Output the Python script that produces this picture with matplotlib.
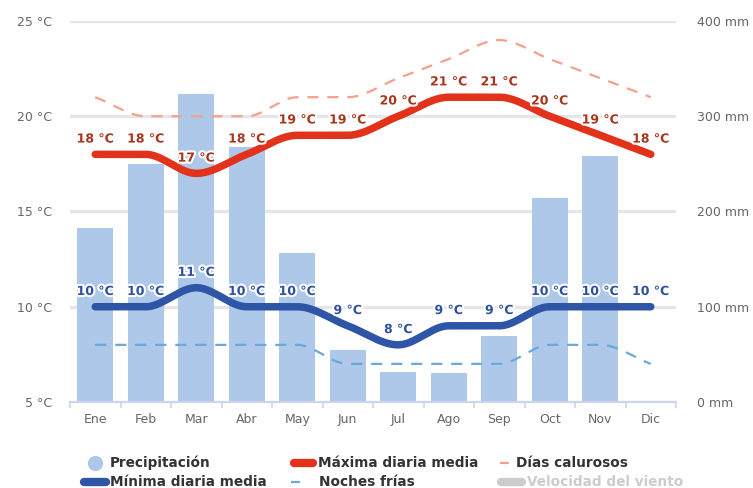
import numpy as np
import matplotlib.pyplot as plt
import matplotlib.patheffects as pe
from matplotlib.lines import Line2D

plt.rcParams['font.family'] = ['DejaVu Sans']

meses = ['Ene', 'Feb', 'Mar', 'Abr', 'May', 'Jun', 'Jul', 'Ago', 'Sep', 'Oct', 'Nov', 'Dic']
precipitacion = [183, 250, 323, 268, 156, 55, 31, 30, 69, 214, 258, 1]   # mm
maxima = [18, 18, 17, 18, 19, 19, 20, 21, 21, 20, 19, 18]                 # °C
minima = [10, 10, 11, 10, 10, 9, 8, 9, 9, 10, 10, 10]                     # °C
dias_calurosos = [21, 20, 20, 20, 21, 21, 22, 23, 24, 23, 22, 21]         # °C
noches_frias = [8, 8, 8, 8, 8, 7, 7, 7, 7, 8, 8, 7]                       # °C

C_BAR = '#aec8ea'
C_MAX = '#e2321b'
C_MAX_TXT = '#a8361c'
C_MIN = '#2e55a6'
C_MIN_TXT = '#2f4f9f'
C_HOT = '#f4a08c'
C_COLD = '#6aa8dc'
C_GRID = '#e6e6e6'
C_AXIS = '#ccd6eb'
C_TICK = '#666666'


def suave(y, n=30):
    """Curva monótona (Fritsch-Carlson) para dibujar las series."""
    y = np.asarray(y, float)
    x = np.arange(len(y), dtype=float)
    d = np.diff(y)
    m = np.zeros_like(y)
    m[0], m[-1] = d[0], d[-1]
    for k in range(1, len(y) - 1):
        if d[k - 1] * d[k] > 0:
            m[k] = 2 / (1 / d[k - 1] + 1 / d[k])
    xs, ys = [], []
    for k in range(len(y) - 1):
        t = np.linspace(0, 1, n, endpoint=False)
        h00 = 2 * t**3 - 3 * t**2 + 1
        h10 = t**3 - 2 * t**2 + t
        h01 = -2 * t**3 + 3 * t**2
        h11 = t**3 - t**2
        xs.append(x[k] + t)
        ys.append(h00 * y[k] + h10 * m[k] + h01 * y[k + 1] + h11 * m[k + 1])
    xs.append([x[-1]])
    ys.append([y[-1]])
    return np.concatenate(xs), np.concatenate(ys)


W, H = 753, 488
fig = plt.figure(figsize=(W / 100, H / 100), dpi=100)
ax = fig.add_axes([70 / W, 1 - 402 / H, 606 / W, 381 / H])
ax2 = ax.twinx()
ax.set_zorder(ax2.get_zorder() + 1)
ax.patch.set_visible(False)

x = np.arange(12)

# precipitación (eje derecho)
ax2.bar(x, precipitacion, width=0.71, color=C_BAR, zorder=2)
ax2.set_ylim(0, 400)
ax2.set_yticks([0, 100, 200, 300, 400])
ax2.set_yticklabels([f'{v} mm' for v in [0, 100, 200, 300, 400]])
ax2.grid(axis='y', color=C_GRID, linewidth=2.4, zorder=0)
ax2.set_axisbelow(True)
ax2.tick_params(axis='y', length=0, pad=15, labelsize=9, labelcolor=C_TICK)

# temperaturas (eje izquierdo)
ax.set_xlim(-0.5, 11.5)
ax.set_ylim(5, 25)
ax.set_yticks([5, 10, 15, 20, 25])
ax.set_yticklabels([f'{v} °C' for v in [5, 10, 15, 20, 25]])
ax.tick_params(axis='y', length=0, pad=13, labelsize=9, labelcolor=C_TICK)
ax.set_xticks(x)
ax.set_xticklabels(meses)
ax.set_xticks(np.arange(-0.5, 12, 1), minor=True)
ax.tick_params(axis='x', which='major', length=0, pad=8, labelsize=9, labelcolor=C_TICK)
ax.tick_params(axis='x', which='minor', length=4, width=1.2, color=C_AXIS)

for a in (ax, ax2):
    for s in ('top', 'left', 'right'):
        a.spines[s].set_visible(False)
ax2.spines['bottom'].set_visible(False)
ax.spines['bottom'].set_color(C_AXIS)
ax.spines['bottom'].set_linewidth(1.5)

xs, ys = suave(dias_calurosos)
ax.plot(xs, ys, color=C_HOT, lw=1.6, dashes=(5, 4), zorder=3)
xs, ys = suave(noches_frias)
ax.plot(xs, ys, color=C_COLD, lw=1.6, dashes=(5, 4), zorder=3)

xs, ys = suave(maxima)
ax.plot(xs, ys, color=C_MAX, lw=5.4, solid_capstyle='round', zorder=4)
xs, ys = suave(minima)
ax.plot(xs, ys, color=C_MIN, lw=5.4, solid_capstyle='round', zorder=4)

halo = [pe.withStroke(linewidth=3, foreground='white')]
for serie, color in ((maxima, C_MAX_TXT), (minima, C_MIN_TXT)):
    for i, v in enumerate(serie):
        ax.annotate(f'{v} °C', (i, v), xytext=(0, 11), textcoords='offset points',
                    ha='center', va='center', fontsize=9, fontweight='bold',
                    color=color, path_effects=halo, zorder=5)


# leyenda
def fx(px):
    return px / W


def fy(py):
    return 1 - py / H


def linea(x0, x1, y, color, lw, dashes=None):
    kw = dict(color=color, lw=lw, solid_capstyle='round', transform=fig.transFigure)
    if dashes:
        kw['dashes'] = dashes
        kw['dash_capstyle'] = 'butt'
    fig.add_artist(Line2D([fx(x0), fx(x1)], [fy(y), fy(y)], **kw))


def etiqueta(x0, y, texto, color='#333333'):
    fig.text(fx(x0), fy(y), texto, ha='left', va='center', fontsize=9.8,
             fontweight='bold', color=color)


r1, r2 = 463, 482
fig.add_artist(Line2D([fx(95)], [fy(r1)], marker='o', markersize=10, color=C_BAR,
                      transform=fig.transFigure))
etiqueta(110, r1, 'Precipitación')
linea(294, 313, r1, C_MAX, 6)
etiqueta(318, r1, 'Máxima diaria media')
linea(500, 514, r1, C_HOT, 1.6, dashes=(4, 3, 1, 3))
etiqueta(516, r1, 'Días calurosos')
linea(84, 106, r2, C_MIN, 6)
etiqueta(110, r2, 'Mínima diaria media')
linea(291, 305, r2, C_COLD, 1.6, dashes=(4, 3, 1, 3))
etiqueta(319, r2, 'Noches frías')
linea(501, 522, r2, '#cccccc', 6)
etiqueta(527, r2, 'Velocidad del viento', color='#cccccc')

fig.savefig('out.png', dpi=100)
